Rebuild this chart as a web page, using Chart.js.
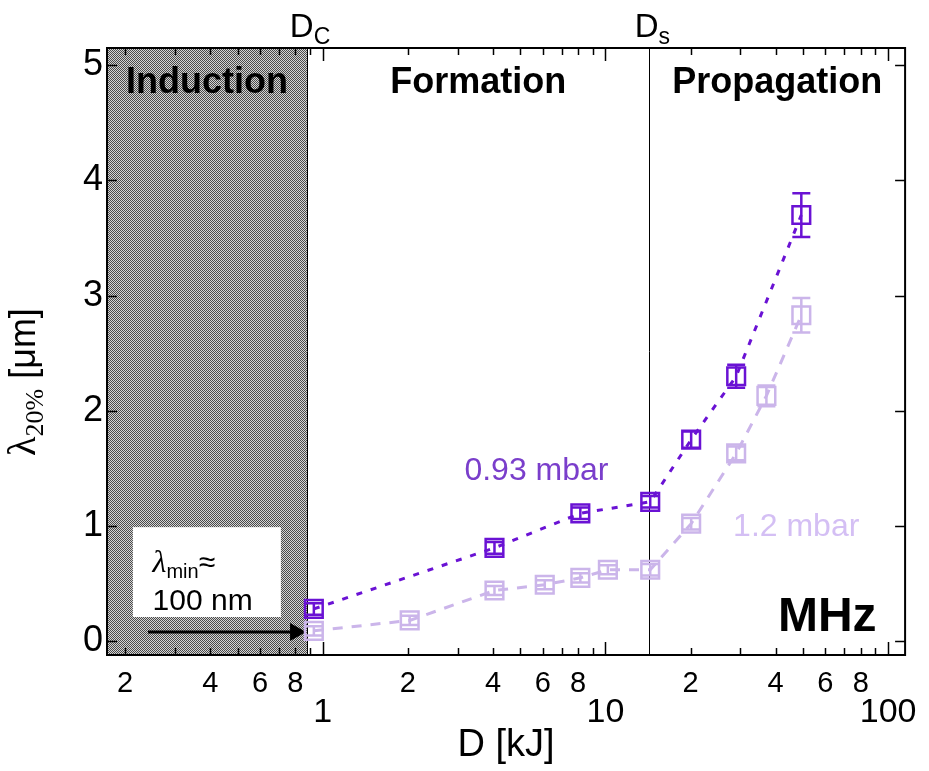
<!DOCTYPE html>
<html>
<head>
<meta charset="utf-8">
<script src="https://cdn.jsdelivr.net/npm/chart.js@4"></script>
<style>
    html, body { margin: 0; padding: 0; background: #fff; }
    canvas { display: block; }
</style>
</head>
<body>
<canvas id="myChart" width="929" height="771"></canvas>
<script>
// 0.93 mbar
const energyHigh = [0.93, 4.05, 8.15, 14.4, 20.1, 29.0, 49.3];
const lambdaHigh = [0.28, 0.81, 1.11, 1.21, 1.75, 2.30, 3.70];
const errorHigh = [0.05, 0.05, 0.05, 0.05, 0.07, 0.10, 0.19];

// 1.2 mbar
const energyLow = [0.93, 2.03, 4.05, 6.1, 8.15, 10.2, 14.4, 20.1, 29.0, 37.1, 49.3];
const lambdaLow = [0.09, 0.18, 0.44, 0.49, 0.55, 0.62, 0.62, 1.02, 1.63, 2.13, 2.83];
const errorLow = [0.04, 0.04, 0.04, 0.04, 0.04, 0.04, 0.05, 0.05, 0.06, 0.09, 0.15];

// axes
const xTickValues = [0.2, 0.3, 0.4, 0.5, 0.6, 0.7, 0.8, 0.9,
    1, 2, 3, 4, 5, 6, 7, 8, 9,
    10, 20, 30, 40, 50, 60, 70, 80, 90, 100];
const xTickLabels = ['2', '', '4', '', '6', '', '8', '',
    '1', '2', '', '4', '', '6', '', '8', '',
    '10', '2', '', '4', '', '6', '', '8', '', '100'];
const majorTicks = [1, 10, 100];
const yTickValues = [0, 1, 2, 3, 4, 5];

// regime boundaries
const dCritical = 0.88;
const dSaturation = 14.3;
const regimes = ['Induction', 'Formation', 'Propagation'];

const xMin = 0.1725, xMax = 114.8;
const yMin = -0.12, yMax = 5.15;

const darkColor = '#6a12d4';
const lightColor = '#cbb5ea';
const sans = '"Liberation Sans", Arial, sans-serif';
const serif = '"Liberation Serif", "Times New Roman", serif';

const toPoints = (xs, ys) => xs.map((x, i) => ({x: x, y: ys[i]}));

const makePattern = (ctx) => {
    const c = document.createElement('canvas');
    c.width = 2;
    c.height = 2;
    const g = c.getContext('2d');
    g.fillStyle = '#d4d4d4';
    g.fillRect(0, 0, 2, 2);
    g.fillStyle = '#4a4a4a';
    g.fillRect(0, 0, 1, 1);
    g.fillRect(1, 1, 1, 1);
    return ctx.createPattern(c, 'repeat');
};

const drawErrorBars = (ctx, x, y, xs, ys, errs, color) => {
    ctx.strokeStyle = color;
    ctx.lineWidth = 2.5;
    xs.forEach((v, i) => {
        const px = x.getPixelForValue(v);
        const top = y.getPixelForValue(ys[i] + errs[i]);
        const bot = y.getPixelForValue(ys[i] - errs[i]);
        ctx.beginPath();
        ctx.moveTo(px, top);
        ctx.lineTo(px, bot);
        ctx.moveTo(px - 9, top);
        ctx.lineTo(px + 9, top);
        ctx.moveTo(px - 9, bot);
        ctx.lineTo(px + 9, bot);
        ctx.stroke();
    });
};

// text with subscript, drawn left to right from x
const drawParts = (ctx, parts, x, y) => {
    parts.forEach(p => {
        ctx.font = p.font;
        ctx.fillText(p.text, x, y + (p.dy || 0));
        x += ctx.measureText(p.text).width;
    });
};
const partsWidth = (ctx, parts) => parts.reduce((w, p) => {
    ctx.font = p.font;
    return w + ctx.measureText(p.text).width;
}, 0);

const decorPlugin = {
    id: 'decor',
    beforeDatasetsDraw(chart) {
        const {ctx, chartArea: a, scales: {x, y}} = chart;
        const xc = x.getPixelForValue(dCritical);
        const xs = x.getPixelForValue(dSaturation);
        ctx.save();
        ctx.fillStyle = makePattern(ctx);
        ctx.fillRect(a.left, a.top, xc - a.left, a.bottom - a.top);

        ctx.strokeStyle = '#000';
        ctx.lineWidth = 1;
        ctx.beginPath();
        ctx.moveTo(Math.round(xc) + 0.5, a.top);
        ctx.lineTo(Math.round(xc) + 0.5, a.bottom);
        ctx.moveTo(Math.round(xs) + 0.5, a.top);
        ctx.lineTo(Math.round(xs) + 0.5, a.bottom);
        ctx.stroke();

        // regime names, centred in log space
        const bounds = [xMin, dCritical, dSaturation, xMax];
        ctx.fillStyle = '#000';
        ctx.font = 'bold 36px ' + sans;
        ctx.textAlign = 'center';
        ctx.textBaseline = 'alphabetic';
        regimes.forEach((name, i) => {
            const mid = Math.sqrt(bounds[i] * bounds[i + 1]);
            ctx.fillText(name, x.getPixelForValue(mid), y.getPixelForValue(4.76));
        });

        // lambda_min box and arrow
        const bx0 = x.getPixelForValue(0.213), bx1 = x.getPixelForValue(0.711);
        const by0 = y.getPixelForValue(0.99), by1 = y.getPixelForValue(0.21);
        ctx.fillStyle = '#fff';
        ctx.fillRect(bx0, by0, bx1 - bx0, by1 - by0);
        ctx.fillStyle = '#000';
        ctx.textAlign = 'left';
        const tx = x.getPixelForValue(0.25);
        drawParts(ctx, [
            {text: 'λ', font: 'italic 32px ' + serif},
            {text: 'min', font: '20px ' + sans, dy: 6},
            {text: '≈', font: '30px ' + sans}
        ], tx, y.getPixelForValue(0.6));
        ctx.font = '30px ' + sans;
        ctx.fillText('100 nm', tx, y.getPixelForValue(0.27));

        const ay = y.getPixelForValue(0.08);
        const ax0 = x.getPixelForValue(0.241);
        ctx.strokeStyle = '#000';
        ctx.lineWidth = 3;
        ctx.beginPath();
        ctx.moveTo(ax0, ay);
        ctx.lineTo(xc - 12, ay);
        ctx.stroke();
        ctx.beginPath();
        ctx.moveTo(xc - 1, ay);
        ctx.lineTo(xc - 17, ay - 9);
        ctx.lineTo(xc - 17, ay + 9);
        ctx.closePath();
        ctx.fill();
        ctx.restore();
    },
    afterDatasetsDraw(chart) {
        const {ctx, chartArea: a, scales: {x, y}} = chart;
        ctx.save();
        drawErrorBars(ctx, x, y, energyLow, lambdaLow, errorLow, lightColor);
        drawErrorBars(ctx, x, y, energyHigh, lambdaHigh, errorHigh, darkColor);

        // series labels and frequency tag
        ctx.font = '32px ' + sans;
        ctx.textAlign = 'center';
        ctx.textBaseline = 'middle';
        ctx.fillStyle = '#7a3ecb';
        ctx.fillText('0.93 mbar', x.getPixelForValue(5.7), y.getPixelForValue(1.48));
        ctx.fillStyle = '#d4bff4';
        ctx.fillText('1.2 mbar', x.getPixelForValue(47.3), y.getPixelForValue(0.99));
        ctx.fillStyle = '#000';
        ctx.font = 'bold 48px ' + sans;
        ctx.textAlign = 'right';
        ctx.textBaseline = 'alphabetic';
        ctx.fillText('MHz', x.getPixelForValue(91), y.getPixelForValue(0.087));

        // frame
        ctx.strokeStyle = '#000';
        ctx.lineWidth = 2;
        ctx.strokeRect(a.left, a.top, a.right - a.left, a.bottom - a.top);

        // inward tick marks
        ctx.lineWidth = 1.5;
        ctx.beginPath();
        x.ticks.forEach(t => {
            const px = Math.round(x.getPixelForValue(t.value)) + 0.5;
            const len = majorTicks.includes(t.value) ? 13 : 7;
            ctx.moveTo(px, a.bottom);
            ctx.lineTo(px, a.bottom - len);
            ctx.moveTo(px, a.top);
            ctx.lineTo(px, a.top + len);
        });
        yTickValues.forEach(v => {
            const py = Math.round(y.getPixelForValue(v)) + 0.5;
            ctx.moveTo(a.left, py);
            ctx.lineTo(a.left + 10, py);
            ctx.moveTo(a.right, py);
            ctx.lineTo(a.right - 10, py);
        });
        ctx.stroke();

        // D_C and D_s above the frame
        const topLabel = (main, sub, value) => {
            const parts = [
                {text: main, font: '33px ' + sans},
                {text: sub, font: '23px ' + sans, dy: 7}
            ];
            const w = partsWidth(ctx, parts);
            ctx.textAlign = 'left';
            drawParts(ctx, parts, x.getPixelForValue(value) + 3 - w / 2, 37);
        };
        topLabel('D', 'C', dCritical);
        topLabel('D', 's', dSaturation);

        // y axis title with subscript
        const title = [
            {text: 'λ', font: '40px ' + serif},
            {text: '20%', font: '26px ' + serif, dy: 8},
            {text: ' [μm]', font: '36px ' + sans}
        ];
        ctx.translate(35, y.getPixelForValue(2.25));
        ctx.rotate(-Math.PI / 2);
        ctx.textAlign = 'left';
        drawParts(ctx, title, -partsWidth(ctx, title) / 2, 0);
        ctx.restore();
    }
};

const chartNode = document.getElementById('myChart');
new Chart(chartNode.getContext('2d'), {
    type: 'line',
    data: {
        datasets: [{
            label: '1.2 mbar',
            data: toPoints(energyLow, lambdaLow),
            borderColor: lightColor,
            borderWidth: 3,
            borderDash: [10, 9],
            pointStyle: 'rect',
            pointRadius: 12.5,
            pointBorderWidth: 2.5,
            pointBorderColor: lightColor,
            pointBackgroundColor: 'rgba(0,0,0,0)'
        }, {
            label: '0.93 mbar',
            data: toPoints(energyHigh, lambdaHigh),
            borderColor: darkColor,
            borderWidth: 3,
            borderDash: [6, 9],
            pointStyle: 'rect',
            pointRadius: 12.5,
            pointBorderWidth: 2.5,
            pointBorderColor: darkColor,
            pointBackgroundColor: 'rgba(0,0,0,0)'
        }]
    },
    options: {
        responsive: false,
        animation: false,
        events: [],
        layout: {padding: {top: 48, right: 23, left: 0, bottom: 0}},
        plugins: {legend: {display: false}, tooltip: {enabled: false}},
        scales: {
            x: {
                type: 'logarithmic',
                min: xMin,
                max: xMax,
                afterBuildTicks: (scale) => {
                    scale.ticks = xTickValues.map(v => ({value: v}));
                },
                afterFit: (scale) => { scale.height = 116; },
                grid: {display: false, drawTicks: false},
                border: {display: false},
                ticks: {
                    autoSkip: false,
                    maxRotation: 0,
                    padding: 12,
                    color: '#000',
                    callback: (value) => xTickLabels[xTickValues.indexOf(value)],
                    font: (c) => majorTicks.includes(c.tick && c.tick.value)
                        ? {family: sans, size: 34, lineHeight: 2.7}
                        : {family: sans, size: 29, lineHeight: 1.2}
                },
                title: {
                    display: true,
                    text: 'D [kJ]',
                    color: '#000',
                    font: {family: sans, size: 38, lineHeight: 1.2},
                    padding: {top: 0, bottom: 3}
                }
            },
            y: {
                type: 'linear',
                min: yMin,
                max: yMax,
                afterBuildTicks: (scale) => {
                    scale.ticks = yTickValues.map(v => ({value: v}));
                },
                afterFit: (scale) => { scale.width = 107; },
                grid: {display: false, drawTicks: false},
                border: {display: false},
                ticks: {
                    padding: 4,
                    color: '#000',
                    font: {family: sans, size: 36}
                }
            }
        }
    },
    plugins: [decorPlugin]
});
</script>
</body>
</html>
